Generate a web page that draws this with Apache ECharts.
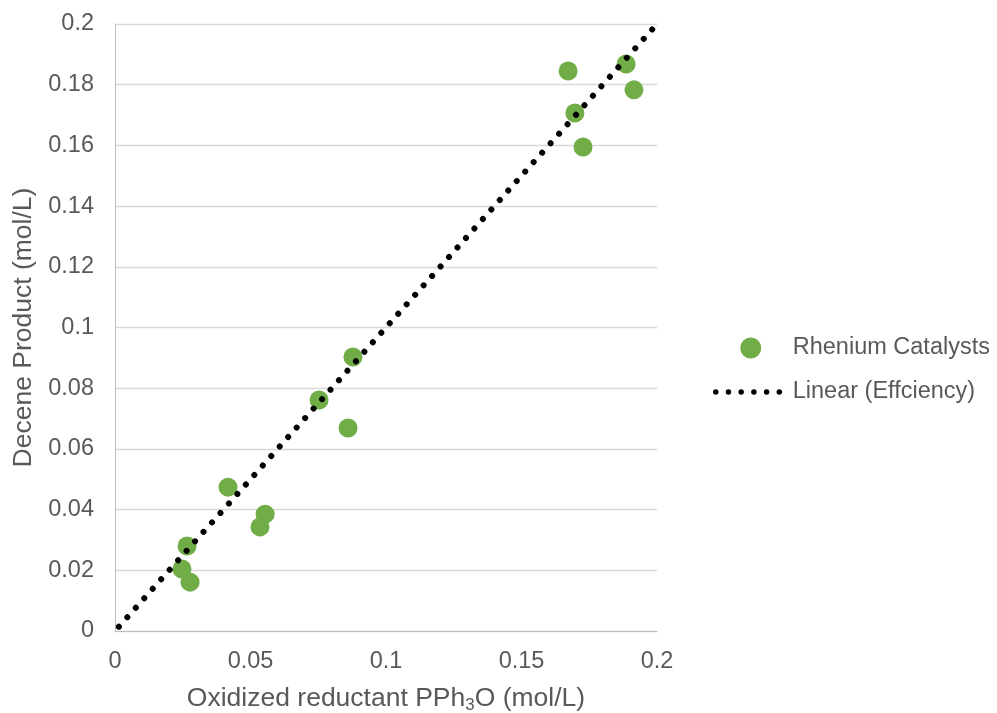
<!DOCTYPE html>
<html>
<head>
<meta charset="utf-8">
<title>Decene Product vs Oxidized Reductant</title>
<script src="https://cdn.jsdelivr.net/npm/echarts@6/dist/echarts.min.js"></script>
<style>
  html, body { margin: 0; padding: 0; background: #ffffff; }
  #chart { width: 997px; height: 713px; }
</style>
</head>
<body>
<div id="chart"></div>
<script>
// Oxidized reductant PPh3O (mol/L) for each rhenium catalyst run
const reductantX = [0.0266, 0.0247, 0.0277, 0.0417, 0.0554, 0.0535, 0.0753,
                    0.0878, 0.0860, 0.1672, 0.1697, 0.1727, 0.1886, 0.1915];
// Decene product (mol/L) measured for the same runs
const deceneY = [0.0280, 0.0204, 0.0161, 0.0474, 0.0385, 0.0343, 0.0761,
                 0.0903, 0.0669, 0.1845, 0.1707, 0.1595, 0.1868, 0.1783];
// Ideal efficiency line (product = reductant consumed)
const efficiencyX = [0, 0.2];
const efficiencyY = [0, 0.2];

const catalystPoints = reductantX.map((x, i) => [x, deceneY[i]]);
const efficiencyPoints = efficiencyX.map((x, i) => [x, efficiencyY[i]]);

const textColor = '#595959';
const fontFamily = '"Liberation Sans", Arial, sans-serif';

const chart = echarts.init(document.getElementById('chart'), null, { renderer: 'canvas' });
chart.setOption({
  animation: false,
  backgroundColor: '#ffffff',
  textStyle: { fontFamily: fontFamily, color: textColor },
  grid: { left: 115, right: 340, top: 24, bottom: 82, containLabel: false, outerBoundsMode: 'none' },
  legend: {
    orient: 'vertical',
    left: 713,
    top: 336,
    padding: 0,
    itemWidth: 70,
    itemHeight: 21,
    itemGap: 20,
    lineStyle: { width: 5.5, type: [0.01, 12.7], dashOffset: 0, cap: 'round', color: '#000000' },
    textStyle: { fontSize: 23.5, color: textColor, fontFamily: fontFamily, padding: [0, 0, 0, 2] },
    data: [
      { name: 'Rhenium Catalysts' },
      { name: 'Linear (Effciency)', itemStyle: { opacity: 0 } }
    ]
  },
  xAxis: {
    type: 'value',
    min: 0,
    max: 0.2,
    interval: 0.05,
    name: '{t|Oxidized reductant PPh}{s|3}{t|O (mol/L)}',
    nameLocation: 'middle',
    nameGap: 52,
    nameTextStyle: {
      rich: {
        t: { fontSize: 26.5, color: textColor, fontFamily: fontFamily },
        s: { fontSize: 17, color: textColor, fontFamily: fontFamily, verticalAlign: 'bottom', padding: [14, 0, 0, 0] }
      }
    },
    axisLine: { show: true, lineStyle: { color: '#bfbfbf', width: 1 } },
    axisTick: { show: false },
    splitLine: { show: false },
    axisLabel: { fontSize: 23.5, color: textColor, margin: 19, fontFamily: fontFamily }
  },
  yAxis: {
    type: 'value',
    min: 0,
    max: 0.2,
    interval: 0.02,
    name: 'Decene Product (mol/L)',
    nameLocation: 'middle',
    nameRotate: 90,
    nameGap: 75,
    nameTextStyle: { fontSize: 26.5, color: textColor, fontFamily: fontFamily },
    axisLine: { show: true, lineStyle: { color: '#bfbfbf', width: 1 } },
    axisTick: { show: false },
    splitLine: { show: true, lineStyle: { color: '#d9d9d9', width: 1.3 } },
    axisLabel: { fontSize: 23.5, color: textColor, margin: 21, fontFamily: fontFamily }
  },
  series: [
    {
      name: 'Linear (Effciency)',
      type: 'line',
      data: efficiencyPoints,
      symbol: 'none',
      z: 3,
      lineStyle: { color: '#000000', width: 6, type: [0.01, 12.7], dashOffset: 6.9, cap: 'round' },
      itemStyle: { color: '#000000' }
    },
    {
      name: 'Rhenium Catalysts',
      type: 'scatter',
      data: catalystPoints,
      symbol: 'circle',
      symbolSize: 19,
      z: 2,
      itemStyle: { color: '#70ad47', opacity: 1 }
    }
  ]
});
</script>
</body>
</html>
